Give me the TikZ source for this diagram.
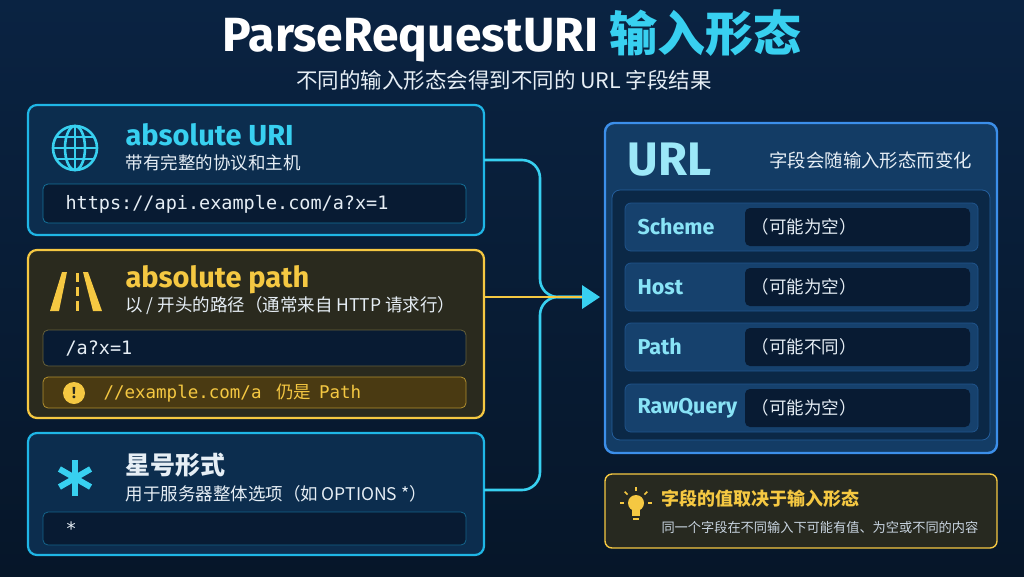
\documentclass[tikz,border=0pt]{standalone}
\usepackage{fontspec}
\setmainfont{Noto Sans CJK SC}
\newfontfamily\cjk{Noto Sans CJK SC}
\newfontfamily\codef{DejaVu Sans Mono}
\newfontfamily\lat{Fira Sans}
\usetikzlibrary{shapes.geometric,arrows.meta,calc}
\definecolor{bg}{HTML}{0A2342}
\definecolor{bgd}{HTML}{061629}
\definecolor{cy}{HTML}{38D0F0}
\definecolor{cyb}{HTML}{1FB6E6}
\definecolor{yl}{HTML}{F5C842}
\definecolor{bl}{HTML}{3C8FEA}
\definecolor{panel}{HTML}{0C2D4E}
\definecolor{code}{HTML}{081B33}
\definecolor{ypanel}{HTML}{2A2A1E}
\definecolor{wbox}{HTML}{4A3A12}
\definecolor{txt}{HTML}{E6EEF5}
\definecolor{sub}{HTML}{C8D4E0}
\begin{document}
\begin{tikzpicture}[x=1pt,y=-1pt,
 card/.style={rounded corners=9pt,line width=2.2pt},
 codebox/.style={rounded corners=5pt,draw=#1,line width=0.8pt,fill=code},
 ttl/.style={anchor=west,font=\lat\bfseries\fontsize{29}{31}\selectfont},
 sb/.style={anchor=west,text=txt,font=\cjk\fontsize{17.5}{19}\selectfont},
 cd/.style={anchor=west,text=txt,font=\codef\fontsize{18.5}{20}\selectfont},
 row/.style={rounded corners=6pt,fill=panel!80!bl,draw=bl!40!panel,line width=0.8pt},
 val/.style={rounded corners=5pt,fill=code},
 lbl/.style={anchor=west,text=cy!60!white,font=\lat\bfseries\fontsize{21.5}{23}\selectfont},
 vt/.style={anchor=west,text=txt,font=\cjk\fontsize{17.5}{19}\selectfont},
 conn/.style={line width=2.6pt,rounded corners=18pt}]
\useasboundingbox (0,0) rectangle (1024,576);
\shade[top color=bg,bottom color=bgd] (0,0) rectangle (1024,576);
% title
\node (title) at (512,36) {\lat\bfseries\fontsize{48}{52}\selectfont\textcolor{white}{ParseRequestURI} \textcolor{cy}{\cjk\bfseries 输入形态}};
\node (subt) at (504,80) {\cjk\fontsize{21.5}{23}\selectfont\textcolor{txt}{不同的输入形态会得到不同的 URL 字段结果}};
% box1
\draw[card,draw=cyb,fill=panel] (28,105) rectangle (484,235);
\node (b1) at (256,170) {};
\begin{scope}[cy,line width=2.6pt]
\draw (75,148) circle (22);
\draw (75,148) ellipse (10 and 22);
\draw (53,148) -- (97,148);
\draw (57,137) -- (93,137); \draw (57,159) -- (93,159);
\draw (75,126) -- (75,170);
\end{scope}
\node[ttl,text=cy] (t1) at (122,135) {absolute URI};
\node[sb] (s1) at (122,163) {带有完整的协议和主机};
\draw[codebox=cyb!50!panel] (43,184) rectangle (466,223);
\node[cd] (c1) at (62,204) {https://api.example.com/a?x=1};
% box2
\draw[card,draw=yl,fill=ypanel] (28,250) rectangle (484,418);
\node (b2) at (256,334) {};
\begin{scope}[fill=yl]
\fill (62,272) -- (67,272) -- (59,311) -- (50,311) -- cycle;
\fill (83,272) -- (88,272) -- (102,311) -- (93,311) -- cycle;
\fill (75.5,273) rectangle (78.5,282);
\fill (75.5,287) rectangle (78.5,296);
\fill (75.5,301) rectangle (78.5,311);
\end{scope}
\node[ttl,text=yl] (t2) at (122,280) {absolute path};
\node[sb] (s2) at (122,306) {以 / 开头的路径（通常来自 HTTP 请求行）};
\draw[codebox=yl!40!code] (43,330) rectangle (466,366);
\node[cd] (c2) at (62,348) {/a?x=1};
\draw[rounded corners=5pt,draw=yl!60!wbox,line width=0.8pt,fill=wbox] (43,377) rectangle (466,408);
\fill[yl] (74,393) circle (11);
\node[text=ypanel,font=\lat\bfseries\fontsize{16}{16}\selectfont] (ex) at (74,393) {!};
\node[anchor=west,text=yl,font=\fontsize{17.5}{19}\selectfont] (w2) at (100,393) {{\codef //example.com/a\ }\hspace{4pt}{\cjk 仍是}\hspace{8pt}{\codef Path}};
% box3
\draw[card,draw=cyb,fill=panel] (28,433) rectangle (484,555);
\node (b3) at (256,494) {};
\foreach \a in {0,60,120} \draw[cy,line width=6pt] ($(75,478)+(\a+90:18)$) -- ($(75,478)+(\a+270:18)$);
\node[ttl,text=txt,font=\cjk\bfseries\fontsize{25}{27}\selectfont] (t3) at (122,465) {星号形式};
\node[sb] (s3) at (122,494) {用于服务器整体选项（如 OPTIONS *）};
\draw[codebox=cyb!40!panel] (43,512) rectangle (466,545);
\node[cd] (c3) at (62,529) {*};
% URL box
\draw[card,draw=bl,fill=panel!85!bl,line width=2.4pt] (605,123) rectangle (997,453);
\node (url) at (800,290) {};
\node[anchor=west,text=cy!50!white,font=\lat\bfseries\fontsize{47}{50}\selectfont] (ut) at (624,160) {URL};
\node[anchor=west,text=txt,font=\cjk\fontsize{18.4}{20}\selectfont] (ud) at (766,160) {字段会随输入形态而变化};
\draw[rounded corners=8pt,fill=panel!70!code,draw=bl!50!panel,line width=0.8pt] (612,190) rectangle (990,440);
\foreach \y/\l/\v in {203/Scheme/（可能为空）,263/Host/（可能为空）,323/Path/（可能不同）,384/RawQuery/（可能为空）}{
 \draw[row] (625,\y) rectangle (978,\y+48);
 \fill[val] (745,\y+5) rectangle (970,\y+43);
 \node[lbl] at (634,\y+24) {\l};
 \node[vt] at (748,\y+24) {\v};
}
% tip
\draw[rounded corners=7pt,draw=yl,line width=1.4pt,fill=ypanel!90!code] (605,474) rectangle (997,548);
\node (tip) at (800,511) {};
\begin{scope}[yl]
\fill (636,503) circle (8);
\fill (632,509) rectangle (640,516);
\fill (633,518) rectangle (639,520);
\foreach \a in {180,225,270,315,0} \draw[line width=1.6pt] ($(636,503)+(\a:12)$) -- ($(636,503)+(\a:16)$);
\end{scope}
\node[anchor=west,text=yl,font=\cjk\bfseries\fontsize{18}{20}\selectfont] (tt) at (658,499) {字段的值取决于输入形态};
\node[anchor=west,text=sub,font=\cjk\fontsize{13.2}{15}\selectfont] (ts) at (658,527) {同一个字段在不同输入下可能有值、为空或不同的内容};
% connectors
\coordinate (j) at (590,297);
\draw[conn,cy] (484,160) -- (540,160) -- (540,297) -- (j);
\draw[conn,cy] (484,490) -- (540,490) -- (540,297) -- (j);
\draw[line width=2.6pt,yl] (484,297) -- (j);
\fill[cy] (j) ++(-8,-12) -- ++(18,12) -- ++(-18,12) -- cycle;
\end{tikzpicture}
\end{document}
